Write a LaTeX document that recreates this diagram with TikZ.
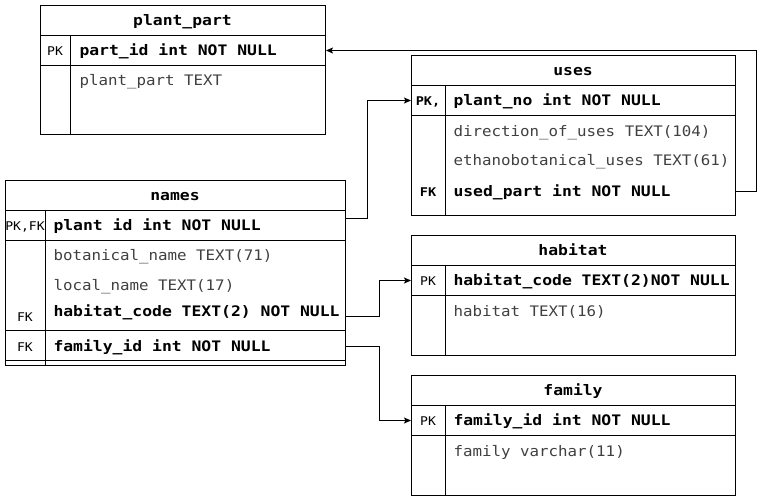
\documentclass[tikz,border=0pt]{standalone}
\usepackage{fontspec}
\newfontfamily\monoreg[FakeStretch=1.09]{DejaVu Sans Mono}
\newfontfamily\monobold[FakeStretch=1.13]{DejaVu Sans Mono}
\usetikzlibrary{arrows.meta}
\definecolor{fieldgray}{gray}{0.25}
\begin{document}
\begin{tikzpicture}[x=1pt,y=-1pt,line width=1pt,
  tbl/.style={draw,rectangle,inner sep=0pt,anchor=north west},
  ttl/.style={font=\monobold\bfseries\fontsize{14.5}{17}\selectfont,inner sep=0pt,text height=12pt,text depth=1.5pt},
  fld/.style={font=\monoreg\fontsize{14.5}{17}\selectfont,text=fieldgray,anchor=west,inner sep=0pt,text height=12pt,text depth=1.5pt},
  keyf/.style={font=\monobold\bfseries\fontsize{14.5}{17}\selectfont,anchor=west,inner sep=0pt,text height=12pt,text depth=1.5pt},
  tag/.style={font=\monoreg\fontsize{12}{14}\selectfont,inner sep=0pt,text height=10.2pt,text depth=0pt},
  btag/.style={font=\monobold\bfseries\fontsize{12}{14}\selectfont,inner sep=0pt,text height=10.2pt,text depth=0pt},
  conn/.style={draw,line width=1pt,-{Stealth[length=7pt,width=6pt,inset=1.5pt]}}]
\useasboundingbox (0,0) rectangle (769,501);

% plant_part
\node[tbl,minimum width=285pt,minimum height=129pt] (pp) at (40,5) {};
\draw (40,35) -- (325,35) (40,65) -- (325,65) (70,35) -- (70,134);
\node[ttl] (ppt) at (182.5,20.5) {plant\_part};
\node[tag] (ppk) at (55,50.5) {PK};
\node[keyf] (pp1) at (79,50.5) {part\_id int NOT NULL};
\node[fld] (pp2) at (79,80) {plant\_part TEXT};

% uses
\node[tbl,minimum width=324pt,minimum height=160pt] (uses) at (411,55) {};
\draw (411,85) -- (735,85) (411,115) -- (735,115) (445,85) -- (445,215);
\node[ttl] (ut) at (573,70.5) {uses};
\node[btag] (upk) at (428,100.5) {PK,};
\node[keyf] (u1) at (453,100.5) {plant\_no int NOT NULL};
\node[fld] (u2) at (453,131) {direction\_of\_uses TEXT(104)};
\node[fld] (u3) at (453,160.5) {ethanobotanical\_uses TEXT(61)};
\node[btag] (ufk) at (428,191) {FK};
\node[keyf] (u4) at (453,191) {used\_part int NOT NULL};

% names
\node[tbl,minimum width=340pt,minimum height=185pt] (names) at (5,180) {};
\draw (5,210) -- (345,210) (5,240) -- (345,240) (5,330) -- (345,330) (5,360) -- (345,360) (45,210) -- (45,365);
\node[ttl] (nt) at (175,195.5) {names};
\node[tag] (npk) at (25,225.5) {PK,FK};
\node[keyf] (n1) at (53,225.5) {plant id int NOT NULL};
\node[fld] (n2) at (53,255.5) {botanical\_name TEXT(71)};
\node[fld] (n3) at (53,285.5) {local\_name TEXT(17)};
\node[tag] (nfk1) at (25,316.5) {FK};
\node[keyf] (n4) at (53,311) {habitat\_code TEXT(2) NOT NULL};
\node[tag] (nfk2) at (25,346) {FK};
\node[keyf] (n5) at (53,346) {family\_id int NOT NULL};

% habitat
\node[tbl,minimum width=324pt,minimum height=120pt] (hab) at (411,235) {};
\draw (411,265) -- (735,265) (411,295) -- (735,295) (445,265) -- (445,355);
\node[ttl] (ht) at (573,250.5) {habitat};
\node[tag] (hpk) at (428,280.5) {PK};
\node[keyf] (h1) at (453,280.5) {habitat\_code TEXT(2)NOT NULL};
\node[fld] (h2) at (453,311) {habitat TEXT(16)};

% family
\node[tbl,minimum width=324pt,minimum height=120pt] (fam) at (411,375) {};
\draw (411,405) -- (735,405) (411,435) -- (735,435) (445,405) -- (445,495);
\node[ttl] (ft) at (573,390.5) {family};
\node[tag] (fpk) at (428,420.5) {PK};
\node[keyf] (f1) at (453,420.5) {family\_id int NOT NULL};
\node[fld] (f2) at (453,451) {family varchar(11)};

% connectors
\draw[conn] (uses.east |- u4) -- ++(20,0) |- (pp.east |- pp1);
\draw[conn] ([yshift=7pt]names.east |- n1) -- ++(21,0) |- (uses.west |- u1);
\draw[conn] (names.east |- nfk1) -- ++(33,0) |- (hab.west |- h1);
\draw[conn] (names.east |- n5) -- ++(33,0) |- (fam.west |- f1);
\end{tikzpicture}
\end{document}
